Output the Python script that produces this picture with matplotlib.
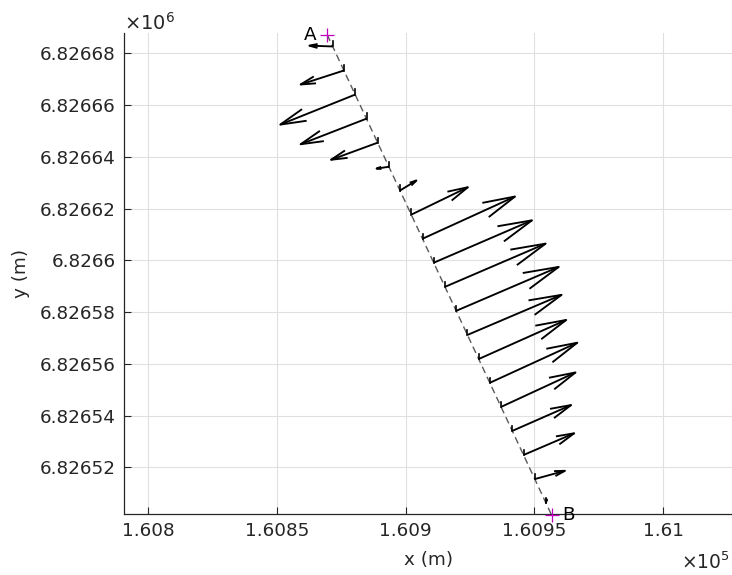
import matplotlib
matplotlib.use('Agg')
import matplotlib.pyplot as plt
from matplotlib.ticker import FuncFormatter

# section end points
xA, yA = 160869.5, 6826687.3
xB, yB = 160956.7, 6826501.6

# arrow bases along the section
xs = [160871.7, 160876.0, 160880.4, 160884.8, 160889.1, 160893.5, 160897.8,
      160902.2, 160906.6, 160910.9, 160915.3, 160919.6, 160924.0, 160928.4,
      160932.7, 160937.1, 160941.4, 160945.8, 160950.2, 160954.5]
ys = [6826682.7, 6826673.4, 6826664.1, 6826654.8, 6826645.5, 6826636.2,
      6826627.0, 6826617.7, 6826608.4, 6826599.1, 6826589.8, 6826580.5,
      6826571.2, 6826561.9, 6826552.7, 6826543.4, 6826534.1, 6826524.8,
      6826515.5, 6826506.2]
# horizontal velocity components (scaled)
us = [-9.1, -16.8, -29.1, -25.6, -18.1, -4.8, 6.4, 22.0, 35.9, 38.2,
      39.1, 39.9, 36.6, 34.0, 34.0, 28.9, 22.9, 19.7, 11.7, 0.3]
vs = [0.3, -5.4, -11.6, -9.9, -6.6, -0.7, 3.9, 10.6, 16.3, 16.4,
      16.7, 17.0, 15.5, 15.1, 15.5, 13.3, 10.0, 8.4, 3.2, 1.5]

xticks = [160800, 160850, 160900, 160950, 161000]
yticks = [6826520, 6826540, 6826560, 6826580, 6826600, 6826620, 6826640,
          6826660, 6826680]

axcol = (0.15, 0.15, 0.15)
fs = 13.2
tick_len = 2.0


def quiver_arrow(ax, x, y, u, v, alpha=0.31, beta=0.24):
    # matlab-style open arrow head
    tx, ty = x + u, y + v
    ax.plot([x, tx], [y, ty], color='k', lw=1.35, solid_capstyle='butt')
    hx = [tx - alpha * (u + beta * v), tx, tx - alpha * (u - beta * v)]
    hy = [ty - alpha * (v - beta * u), ty, ty - alpha * (v + beta * u)]
    ax.plot(hx, hy, color='k', lw=1.35)


fig = plt.figure(figsize=(7.32, 5.75), dpi=100)
ax = fig.add_axes([124.3 / 732, 61 / 575, (732 - 124.3) / 732, 481 / 575])

ax.plot([xA, xB], [yA, yB], color=(0.35, 0.35, 0.35), lw=1.0,
        dashes=(5, 3))
for x, y, u, v in zip(xs, ys, us, vs):
    ax.plot([x, x], [y, y + tick_len], color='k', lw=1.2)
    quiver_arrow(ax, x, y, u, v)

ax.plot([xA, xB], [yA, yB], '+', color='m', ms=10, mew=0.9, ls='none',
        clip_on=False, zorder=5)
ax.text(xA - 4, yA, 'A', fontsize=fs, color='k', ha='right', va='center')
ax.text(xB + 4, yB, 'B', fontsize=fs, color='k', ha='left', va='center')

ax.set_xlim(160790.7, 161026.8)
ax.set_ylim(6826502.0, 6826687.9)
ax.set_xticks(xticks)
ax.set_yticks(yticks)
ax.xaxis.set_major_formatter(FuncFormatter(lambda v, p: '%g' % (v / 1e5)))
ax.yaxis.set_major_formatter(FuncFormatter(lambda v, p: '%g' % (v / 1e6)))
ax.grid(True, color=(0.88, 0.88, 0.88), lw=0.8)
ax.set_axisbelow(True)
for s in ['top', 'right']:
    ax.spines[s].set_visible(False)
for s in ['left', 'bottom']:
    ax.spines[s].set_color(axcol)
    ax.spines[s].set_linewidth(0.9)
ax.tick_params(direction='in', length=5, width=0.8, colors=axcol,
               labelsize=fs, pad=6)
ax.set_xlabel('x (m)', fontsize=fs, color=axcol, labelpad=8)
ax.set_ylabel('y (m)', fontsize=fs, color=axcol, labelpad=7)

fig.text(124 / 732, 1 - 30 / 575, r'$\times10^{6}$', fontsize=14,
         color=axcol, ha='left', va='baseline')
fig.text(730 / 732, 6 / 575, r'$\times10^{5}$', fontsize=13.5,
         color=axcol, ha='right', va='baseline')

fig.savefig('out.png', dpi=100)
